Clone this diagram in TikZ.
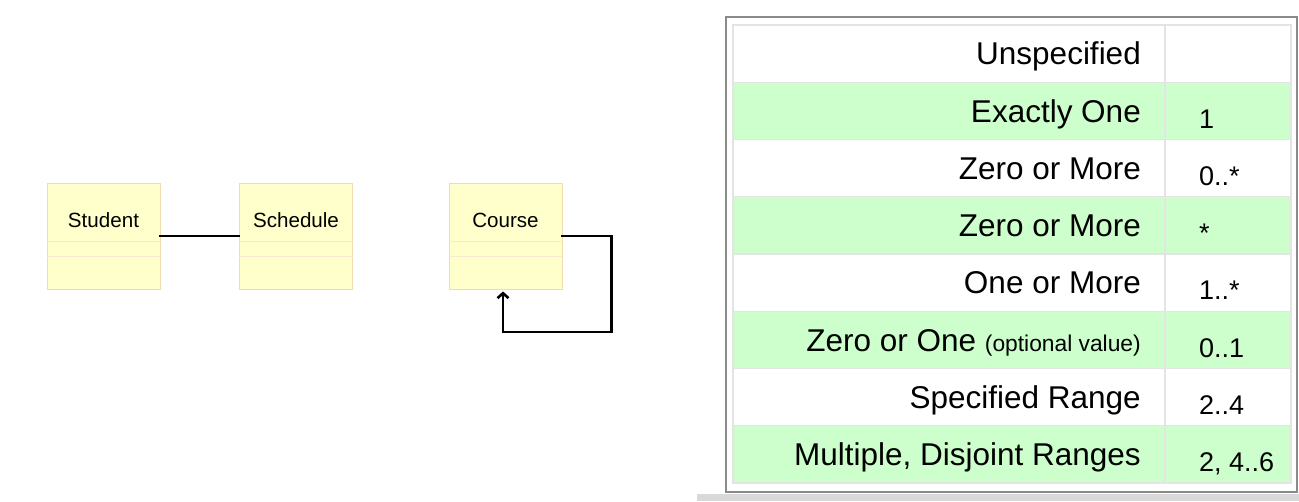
\documentclass[tikz,border=0pt]{standalone}
\usepackage{fontspec}
\setmainfont{Liberation Sans}
\usetikzlibrary{calc,arrows.meta}
\definecolor{notefill}{HTML}{FFFFCC}
\definecolor{noteline}{HTML}{F2DCAE}
\definecolor{rowgreen}{HTML}{CCFFCC}
\definecolor{gridgray}{HTML}{E4E4E4}
\definecolor{framegray}{HTML}{8A8A8A}
\definecolor{bargray}{HTML}{D9D9D9}
\begin{document}
\begin{tikzpicture}[x=1pt,y=-1pt,
  umlclass/.style={draw=noteline,fill=notefill,line width=0.8pt,minimum width=113pt,minimum height=106pt,inner sep=0pt},
  classlabel/.style={inner sep=0pt,font=\fontsize{20.6}{24}\selectfont},
  compline/.style={draw=noteline!60,line width=0.8pt},
  assoc/.style={line width=2.6pt,line cap=rect},
  lbl/.style={anchor=east,inner sep=0pt,text height=22.5pt,text depth=0pt,font=\fontsize{31.5}{36}\selectfont},
  val/.style={anchor=west,inner sep=0pt,text height=19.3pt,text depth=0pt,font=\fontsize{27}{31}\selectfont},
  grid/.style={draw=gridgray,line width=1.2pt}]
\useasboundingbox (0,0) rectangle (1299,501);
\pgfmathsetmacro{\rh}{57.25}
\pgfmathsetmacro{\ty}{25}
\pgfmathsetmacro{\vo}{7.5}
%
% class boxes
\node[umlclass] (student) at (103.5,236) {};
\node[classlabel] (studentname) at ($(student.north)+(0,38)$) {Student};
\draw[compline] ($(student.west)+(0,5)$)--($(student.east)+(0,5)$);
\draw[compline] ($(student.west)+(0,20)$)--($(student.east)+(0,20)$);
%
\node[umlclass] (schedule) at (296,236) {};
\node[classlabel] (schedulename) at ($(schedule.north)+(0,38)$) {Schedule};
\draw[compline] ($(schedule.west)+(0,5)$)--($(schedule.east)+(0,5)$);
\draw[compline] ($(schedule.west)+(0,20)$)--($(schedule.east)+(0,20)$);
%
\node[umlclass] (course) at (505.5,236) {};
\node[classlabel] (coursename) at ($(course.north)+(0,38)$) {Course};
\draw[compline] ($(course.west)+(0,5)$)--($(course.east)+(0,5)$);
\draw[compline] ($(course.west)+(0,20)$)--($(course.east)+(0,20)$);
%
% associations
\draw[assoc] (student.east)--(schedule.west);
\draw[assoc,-{Straight Barb[length=5pt,width=11pt]}] (course.east)--++(49,0)--++(0,96)-|($(course.south)+(-2.5,2)$);
%
% table
\fill[bargray] (697,494) rectangle (1299,501);
\draw[framegray,line width=1.6pt] (726,17) rectangle (1297,492);
%
\fill[white] (733,\ty) rectangle ++(558,\rh);
\node[lbl] (unspec) at (1141,\ty+0.5*\rh) {Unspecified};
%
\fill[rowgreen] (733,\ty+1*\rh) rectangle ++(558,\rh);
\node[lbl] (exact) at (1141,\ty+1.5*\rh) {Exactly One};
\node[val] (exactv) at (1199,\ty+1.5*\rh+\vo) {1};
%
\fill[white] (733,\ty+2*\rh) rectangle ++(558,\rh);
\node[lbl] (zmore) at (1141,\ty+2.5*\rh) {Zero or More};
\node[val] (zmorev) at (1199,\ty+2.5*\rh+\vo) {0..*};
%
\fill[rowgreen] (733,\ty+3*\rh) rectangle ++(558,\rh);
\node[lbl] (zmoreb) at (1141,\ty+3.5*\rh) {Zero or More};
\node[val] (zmorebv) at (1199,\ty+3.5*\rh+\vo) {*};
%
\fill[white] (733,\ty+4*\rh) rectangle ++(558,\rh);
\node[lbl] (omore) at (1141,\ty+4.5*\rh) {One or More};
\node[val] (omorev) at (1199,\ty+4.5*\rh+\vo) {1..*};
%
\fill[rowgreen] (733,\ty+5*\rh) rectangle ++(558,\rh);
\node[lbl] (zone) at (1141,\ty+5.5*\rh) {Zero or One {\fontsize{22.8}{26}\selectfont(optional value)}};
\node[val] (zonev) at (1199,\ty+5.5*\rh+\vo) {0..1};
%
\fill[white] (733,\ty+6*\rh) rectangle ++(558,\rh);
\node[lbl] (range) at (1141,\ty+6.5*\rh) {Specified Range};
\node[val] (rangev) at (1199,\ty+6.5*\rh+\vo) {2..4};
%
\fill[rowgreen] (733,\ty+7*\rh) rectangle ++(558,\rh);
\node[lbl] (multi) at (1141,\ty+7.5*\rh) {Multiple, Disjoint Ranges};
\node[val] (multiv) at (1199,\ty+7.5*\rh+\vo) {2, 4..6};
%
% grid lines
\draw[grid] (733,\ty) rectangle ++(558,8*\rh);
\draw[grid] (1165,\ty)--++(0,8*\rh);
\draw[grid] (733,\ty+1*\rh)--++(558,0);
\draw[grid] (733,\ty+2*\rh)--++(558,0);
\draw[grid] (733,\ty+3*\rh)--++(558,0);
\draw[grid] (733,\ty+4*\rh)--++(558,0);
\draw[grid] (733,\ty+5*\rh)--++(558,0);
\draw[grid] (733,\ty+6*\rh)--++(558,0);
\draw[grid] (733,\ty+7*\rh)--++(558,0);
\end{tikzpicture}
\end{document}
